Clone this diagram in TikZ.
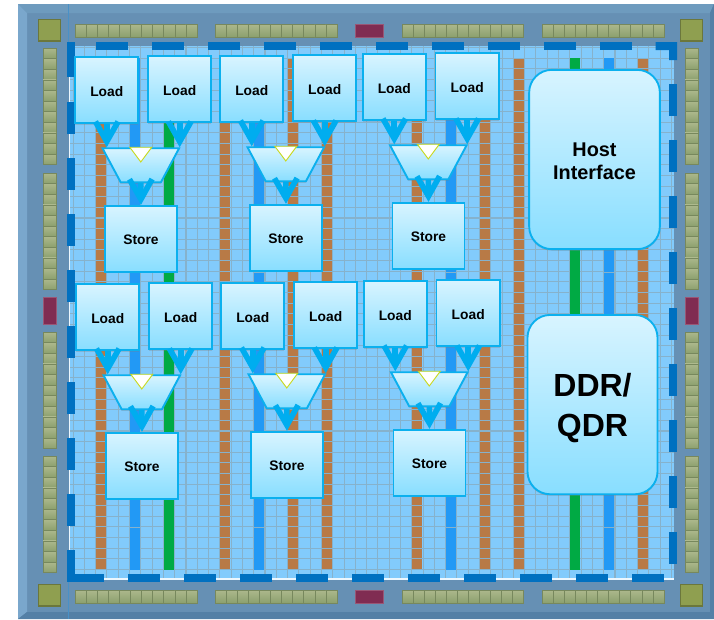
\documentclass[tikz,border=0pt]{standalone}
\usepackage{fontspec}
\setsansfont{Liberation Sans}
\usepackage{xcolor}
\usetikzlibrary{shapes.geometric, arrows.meta, calc, shadows}
\definecolor{chipbase}{RGB}{102, 144, 180}
\definecolor{chiptop}{RGB}{110, 155, 190}
\definecolor{chipleft}{RGB}{122, 167, 204}
\definecolor{chiplow}{RGB}{84, 128, 166}
\definecolor{gridfill}{RGB}{130, 203, 252}
\definecolor{gridline}{RGB}{134, 178, 204}
\definecolor{dspbrown}{RGB}{184, 122, 70}
\definecolor{ramblue}{RGB}{34, 153, 245}
\definecolor{iogreen}{RGB}{0, 170, 68}
\definecolor{dashblue}{RGB}{0, 112, 192}
\definecolor{padlight}{RGB}{172, 184, 140}
\definecolor{paddark}{RGB}{140, 160, 110}
\definecolor{cornerpad}{RGB}{143, 159, 80}
\definecolor{redpad}{RGB}{128, 44, 82}
\definecolor{boxedge}{RGB}{11, 176, 238}
\definecolor{boxtop}{RGB}{216, 244, 255}
\definecolor{boxlow}{RGB}{136, 222, 255}
\definecolor{flowblue}{RGB}{0, 173, 239}
\definecolor{markyellow}{RGB}{200, 216, 32}

\begin{document}
\begin{tikzpicture}[
    x=0.75pt, y=-0.75pt,
    block/.style={draw=boxedge, line width=1.4pt, top color=boxtop, bottom color=boxlow,
        drop shadow={shadow xshift=0pt, shadow yshift=-1.2pt, opacity=0.3},
        font=\sffamily\bfseries\fontsize{10.35}{12}\selectfont, align=center},
    loadbox/.style={block, minimum width=47.5pt, minimum height=49.5pt, text height=8.9pt, text depth=0pt},
    storebox/.style={block, minimum width=54pt, minimum height=49.5pt, text height=8.9pt, text depth=0pt},
    bigbox/.style={block, rounded corners=17pt},
    muxbox/.style={block, trapezium, shape border rotate=180, trapezium stretches=true,
        trapezium angle=65.7, minimum width=57.5pt, minimum height=25.5pt, inner sep=1pt},
    muxmark/.style={draw=markyellow, fill=white, line width=0.7pt},
    flow/.style={-{Straight Barb[length=15pt, width=17pt, line width=4.2pt]}, line width=4.2pt, flowblue},
    padcell/.style={top color=padlight, bottom color=paddark, draw=paddark!85!black, line width=0.35pt},
    redcell/.style={fill=redpad, draw=redpad!80!white, line width=0.6pt},
    cornercell/.style={fill=cornerpad, draw=cornerpad!75!black, line width=0.8pt},
    dashbar/.style={fill=dashblue}
]

    \useasboundingbox (0,0) rectangle (714,619);

    % Chip frame
    \fill[chipbase] (18,4) rectangle (714,619);
    \fill[chiptop] (18,4) -- (714,4) -- (710,13) -- (27,13) -- cycle;
    \fill[chipleft] (18,4) -- (27,13) -- (27,612) -- (18,619) -- cycle;
    \fill[chiplow] (18,619) -- (27,612) -- (710,612) -- (714,619) -- cycle;
    \fill[chiplow] (714,4) -- (710,13) -- (710,612) -- (714,619) -- cycle;
    \draw[chipleft!60!dashblue, line width=0.4pt] (68.5,4) -- (68.5,46) (68.5,580) -- (68.5,619);

    % Fabric
    \fill[gridfill] (70,46) rectangle (674,579);
    \foreach \k in {0,11,17,20,28,34,37,48}
        \fill[dspbrown] ({101.3+\k*11.29-5},58.3) rectangle ({101.3+\k*11.29+5},569.5);
    \foreach \k in {-2,...,51}
        \draw[gridline, line width=0.8pt] ({95.65+\k*11.29},46) -- ({95.65+\k*11.29},579);
    \foreach \k in {0,...,49}
        \draw[gridline, line width=0.8pt] (70,{47.6+\k*10.65}) -- (674,{47.6+\k*10.65});
    \foreach \k in {6,42}
        \fill[iogreen] ({101.3+\k*11.29-5},58.3) rectangle ({101.3+\k*11.29+5},569.5);
    \foreach \k in {3,14,31,45} {
        \fill[ramblue] ({101.3+\k*11.29-5},58.3) rectangle ({101.3+\k*11.29+5},569.5);
        \foreach \y in {272,527}
            \draw[gridline, line width=0.6pt] ({101.3+\k*11.29-5},\y) -- ({101.3+\k*11.29+5},\y);
    }
    \draw[white!85!gridfill, line width=0.8pt] (69.6,46) -- (69.6,579) -- (674,579);

    % Dashes round the fabric
    \foreach \x in {96,152,208,264,320,376,432,488,544,600}
        \fill[dashbar] (\x,42) rectangle ++(31.5,8);
    \foreach \x in {72,128,184,240,296,352,408,464,520,576,632}
        \fill[dashbar] (\x,574) rectangle ++(31.5,8);
    \foreach \y in {102,158,214,270,326,382,438,494}
        \fill[dashbar] (67,\y) rectangle ++(8,31.5);
    \foreach \y in {84,140,196,252,308,364,420,476,532}
        \fill[dashbar] (669,\y) rectangle ++(8,32);
    \fill[dashbar] (67,42) rectangle (75,77);
    \fill[dashbar] (67,550) rectangle (75,582);
    \fill[dashbar] (655.5,42) -- (677,42) -- (677,60) -- (669,60) -- (669,50) -- (655.5,50) -- cycle;

    % Pads along the top and bottom
    \foreach \y in {24,590} {
        \foreach \xstart in {75.3,215.3,402,542.3} {
            \foreach \k in {0,...,10}
                \draw[padcell] ({\xstart+\k*11.05},\y) rectangle ++(11.05,13);
        }
        \draw[redcell] (355.3,\y) rectangle ++(27.7,13);
    }

    % Pads along the sides
    \foreach \x in {43,685} {
        \foreach \ystart in {48,173,332,456} {
            \foreach \k in {0,...,10}
                \draw[padcell] (\x,{\ystart+\k*10.6}) rectangle ++(13,10.6);
        }
        \draw[redcell] (\x,297.3) rectangle ++(13,26.7);
    }

    % Corner pads
    \foreach \x in {38.5,680.5}
        \foreach \y in {19.5,584.5}
            \draw[cornercell] (\x,\y) rectangle ++(22,21.5);

    % Load and store groups
    \foreach \grp/\dx/\dy in {ga/0/0, gb/145/-1, gc/287.5/-3, gd/1/227, ge/146/226, gf/288.5/224} {
        \begin{scope}[shift={(\dx,\dy)}]
            \node[loadbox] (\grp-left) at (106.75,90.35) {Load};
            \node[loadbox] (\grp-right) at (179.7,89.35) {Load};
            \node[muxbox] (\grp-mux) at (140.8,165.2) {};
            \node[storebox] (\grp-store) at (141,238.8) {Store};
            \draw[muxmark] (\grp-mux.north) ++(-11,0) -- ++(22,0) -- ++(-11,14.7) -- cycle;
            \draw[flow] (\grp-left.south) -- (\grp-left.south |- \grp-mux.north);
            \draw[flow] (\grp-right.south) -- (\grp-right.south |- \grp-mux.north);
            \draw[flow] (\grp-mux.south) -- (\grp-store.north);
        \end{scope}
    }

    % Right column
    \node[bigbox, minimum width=98pt, minimum height=134.5pt,
        font=\sffamily\bfseries\fontsize{14.9}{17.2}\selectfont] (host) at (594.5,159.5) {\rule{0pt}{12.2pt}Host\\Interface};
    \node[bigbox, minimum width=97.5pt, minimum height=134.5pt,
        font=\sffamily\bfseries\fontsize{24}{30}\selectfont] (ddr) at (592.5,404.6) {\rule{0pt}{23.2pt}DDR/\\QDR};

\end{tikzpicture}
\end{document}
